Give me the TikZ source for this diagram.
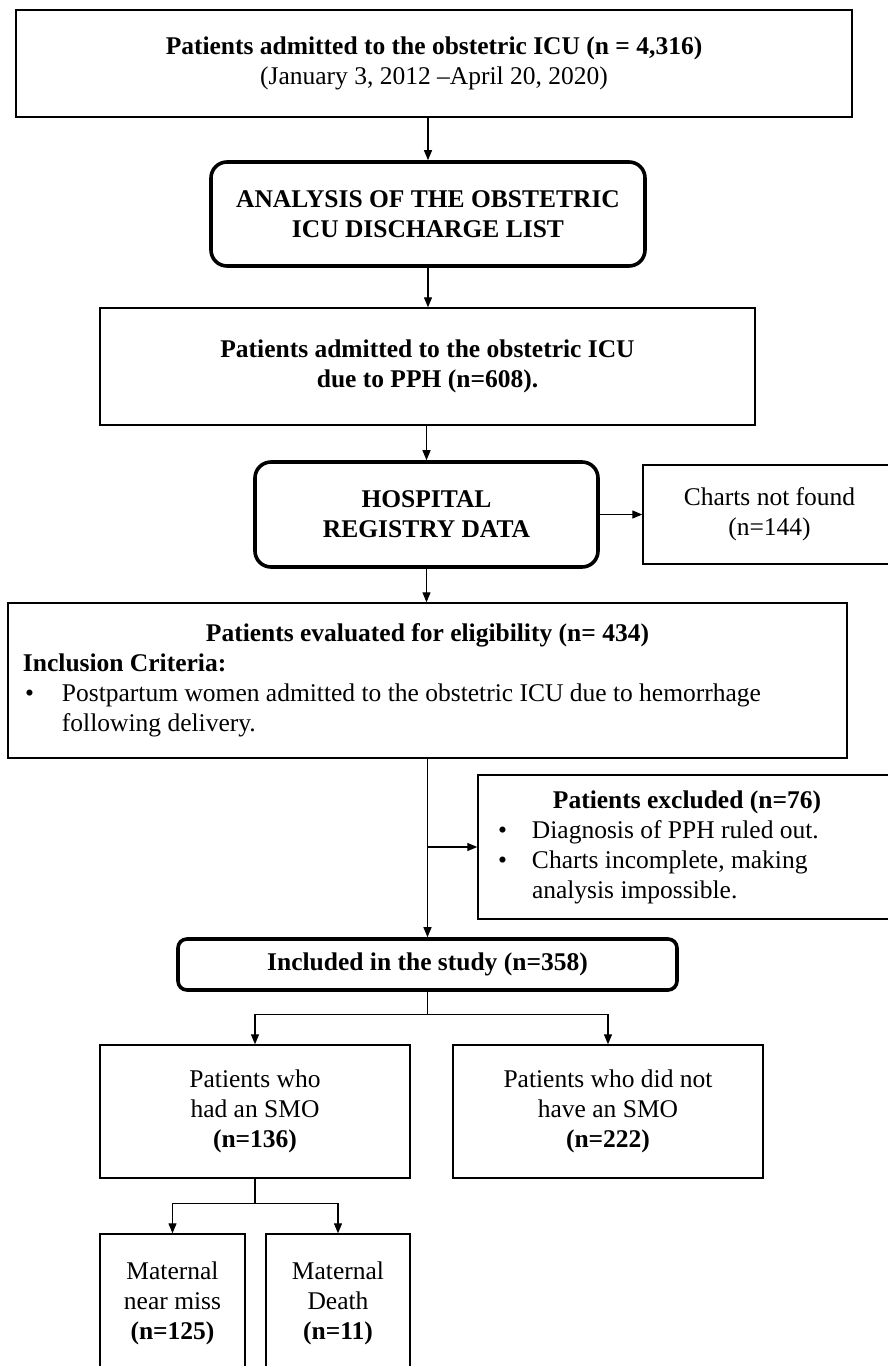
\documentclass[tikz,border=0pt]{standalone}
\usepackage{fontspec}
\setmainfont{Liberation Serif}
\usepackage{tikz}
\usetikzlibrary{arrows.meta,positioning}

\begin{document}
\begin{tikzpicture}[
    x=1pt, y=-1pt,
    font=\fontsize{25.5}{30}\selectfont,
    pbox/.style={rectangle, draw=black, line width=1.4pt, inner sep=2pt, align=center},
    rbox/.style={rectangle, rounded corners=16pt, draw=black, line width=3.6pt, inner sep=2pt, align=center, font=\fontsize{25.5}{30}\selectfont\bfseries},
    arrow/.style={-{Triangle[length=10pt,width=8pt]}, line width=1.2pt},
    line/.style={line width=1.2pt},
]
\useasboundingbox (0,0) rectangle (888,1366);

\node[pbox, minimum width=836pt, minimum height=107pt] (adm) at (434,63.5)
  {\textbf{Patients admitted to the obstetric ICU (n = 4,316)}\\(January 3, 2012 –April 20, 2020)};
\node[rbox, minimum width=434pt, minimum height=104pt] (ana) at (428,214)
  {ANALYSIS OF THE OBSTETRIC\\ICU DISCHARGE LIST};
\node[pbox, minimum width=655pt, minimum height=117pt, font=\fontsize{25.5}{30}\selectfont\bfseries] (pph) at (427.5,366.5)
  {Patients admitted to the obstetric ICU\\due to PPH (n=608).};
\node[rbox, minimum width=343pt, minimum height=105pt] (reg) at (426.5,514.5)
  {HOSPITAL\\REGISTRY DATA};
\node[pbox, minimum width=253pt, minimum height=99pt] (nf) at (769.5,514.5)
  {Charts not found\\(n=144)};
\node[pbox, minimum width=839pt, minimum height=155pt, text width=809pt, inner xsep=15pt, align=none] (elig) at (427.5,680.5)
  {\parindent=0pt\centering\textbf{Patients evaluated for eligibility (n= 434)}\par
   \raggedright\textbf{Inclusion Criteria:}\par
   \hspace*{2pt}\makebox[37pt][l]{\textbullet}\parbox[t]{760pt}{\raggedright Postpartum women admitted to the obstetric ICU due to hemorrhage\\following delivery.}};
\node[pbox, minimum width=418pt, minimum height=144pt, text width=378pt, inner xsep=20pt, align=none] (excl) at (687,847)
  {\parindent=0pt\centering\textbf{Patients excluded (n=76)}\par
   \raggedright\makebox[34pt][l]{\textbullet}Diagnosis of PPH ruled out.\par
   \makebox[34pt][l]{\textbullet}\parbox[t]{340pt}{\raggedright Charts incomplete, making\\analysis impossible.}};
\node[rbox, rounded corners=9pt, minimum width=499pt, minimum height=51pt] (incl) at (427.5,964.5)
  {Included in the study (n=358)};
\node[pbox, minimum width=310pt, minimum height=133pt] (smo) at (255,1111.5)
  {Patients who\\had an SMO\\\textbf{(n=136)}};
\node[pbox, minimum width=310pt, minimum height=133pt] (nosmo) at (608,1111.5)
  {Patients who did not\\have an SMO\\\textbf{(n=222)}};
\node[pbox, minimum width=145pt, minimum height=138pt] (miss) at (172.5,1303)
  {Maternal\\near miss\\\textbf{(n=125)}};
\node[pbox, minimum width=144pt, minimum height=138pt] (death) at (338,1303)
  {Maternal\\Death\\\textbf{(n=11)}};

\draw[arrow] (ana.north |- adm.south) -- (ana.north);
\draw[arrow] (ana.south) -- (ana.south |- pph.north);
\draw[arrow] (pph.south -| reg.north) -- (reg.north);
\draw[arrow] (reg.east) -- (nf.west);
\draw[arrow] (reg.south) -- (reg.south |- elig.north);
\draw[arrow] (elig.south) -- (incl.north);
\draw[arrow] (elig.south |- excl.west) -- (excl.west);

% split after inclusion
\draw[line] (incl.south) -- ++(0,23) coordinate (sp1);
\draw[arrow] (sp1) -| (smo.north);
\draw[arrow] (sp1) -| (nosmo.north);
\draw[line] (smo.south) -- ++(0,25) coordinate (sp2);
\draw[arrow] (sp2) -| (miss.north);
\draw[arrow] (sp2) -| (death.north);
\end{tikzpicture}
\end{document}
